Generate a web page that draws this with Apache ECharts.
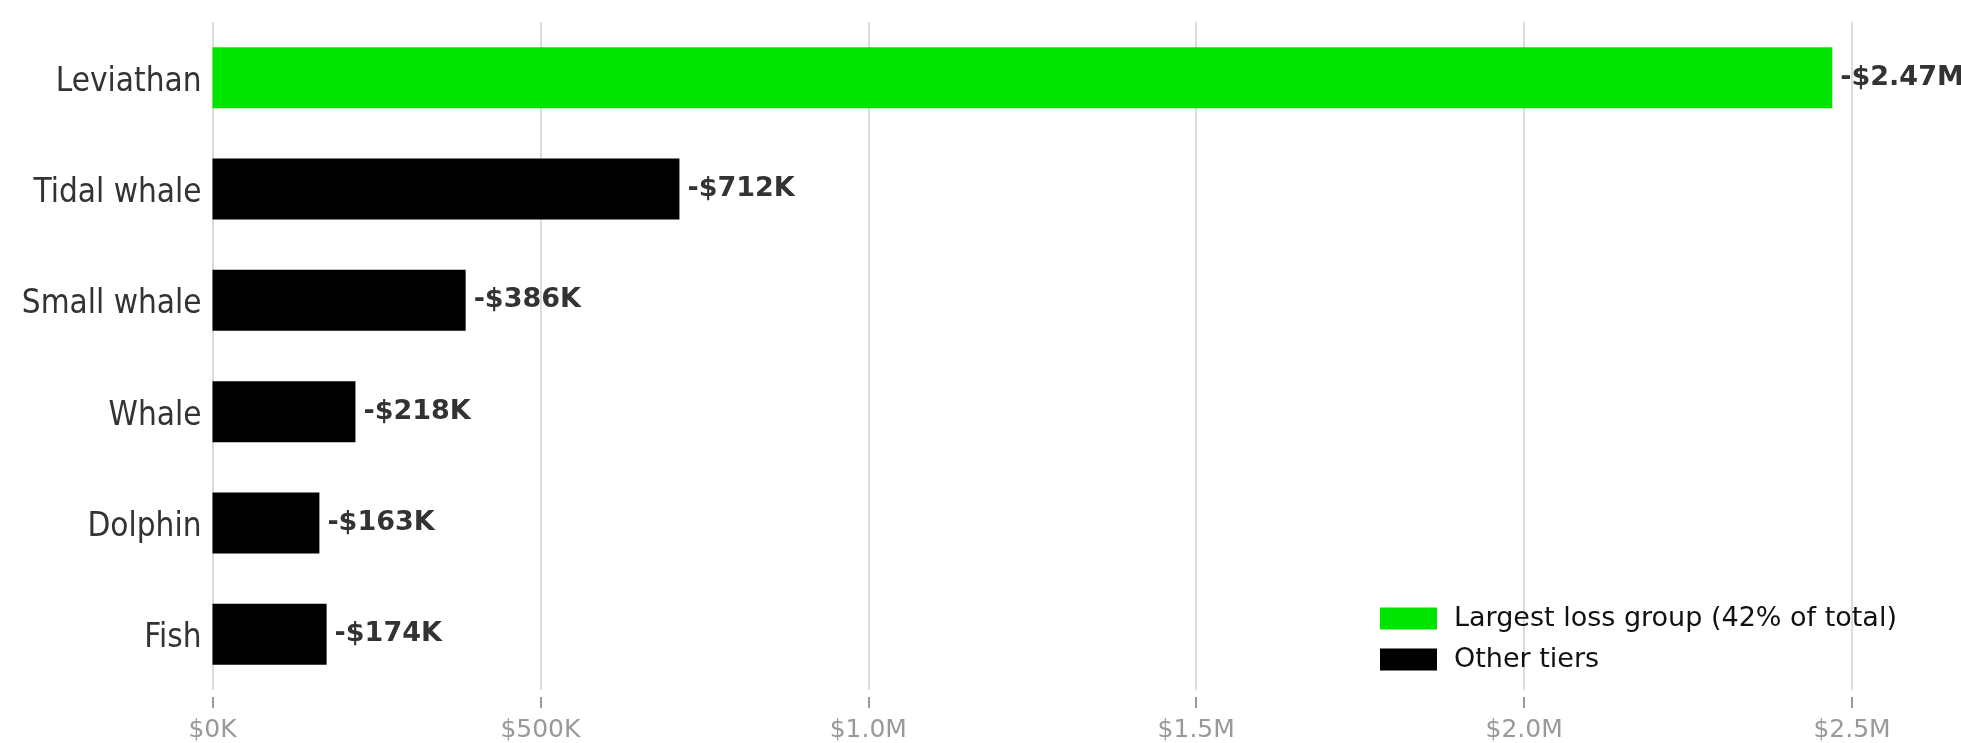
<!DOCTYPE html>
<html>
<head>
<meta charset="utf-8">
<script src="https://cdn.jsdelivr.net/npm/echarts@6/dist/echarts.min.js"></script>
<style>
  html, body { margin: 0; padding: 0; background: #fff; }
  #chart { width: 1961px; height: 743px; }
</style>
</head>
<body>
<div id="chart"></div>
<script>
// loss per tier (shown as negative dollars)
var categories = ['Leviathan', 'Tidal whale', 'Small whale', 'Whale', 'Dolphin', 'Fish'];
var losses = [2470000, 712000, 386000, 218000, 163000, 174000];
var highlightIndex = 0;
var tickLabels = ['$0K', '$500K', '$1.0M', '$1.5M', '$2.0M', '$2.5M'];
var seriesNames = ['Largest loss group (42% of total)', 'Other tiers'];

(function () {
    var myChart = echarts.init(document.getElementById('chart'));

    var font = 'DejaVu Sans';
    var narrowFont = '"DejaVu Sans Condensed", "DejaVu Sans"';

    function fmtLoss(v) {
        if (v >= 1000000) {
            return '-$' + (v / 1000000).toFixed(2) + 'M';
        }
        return '-$' + Math.round(v / 1000) + 'K';
    }

    var labelStyle = {
        show: true,
        position: 'right',
        distance: 8,
        color: '#333',
        fontFamily: font,
        fontWeight: 'bold',
        fontSize: 27,
        formatter: function (p) { return fmtLoss(p.value); }
    };

    var option = {
        animation: false,
        textStyle: { fontFamily: font },
        legend: {
            orient: 'vertical',
            left: 1375,
            top: 600,
            itemWidth: 57,
            itemHeight: 22,
            itemGap: 14,
            icon: 'rect',
            textStyle: {
                color: '#111',
                fontSize: 27,
                fontFamily: font,
                padding: [0, 0, 0, 12]
            },
            data: seriesNames
        },
        grid: {
            left: 212.5,
            right: 109,
            top: 22,
            height: 669
        },
        xAxis: {
            type: 'value',
            min: 0,
            max: 2500000,
            interval: 500000,
            offset: 7,
            axisLine: { show: false },
            axisTick: {
                show: true,
                length: 11,
                lineStyle: { color: '#999', width: 2 }
            },
            axisLabel: {
                color: '#999',
                fontSize: 25,
                fontFamily: font,
                margin: 21,
                formatter: function (v) { return tickLabels[Math.round(v / 500000)]; }
            },
            splitLine: {
                show: true,
                lineStyle: { color: '#dcdcdc', width: 2 }
            }
        },
        yAxis: {
            type: 'category',
            inverse: true,
            data: categories,
            axisLine: { show: false },
            axisTick: { show: false },
            axisLabel: {
                margin: 11,
                formatter: function (v) { return '{cat|' + v + '}'; },
                rich: {
                    cat: {
                        color: '#333',
                        fontSize: 33,
                        fontFamily: narrowFont,
                        padding: [9, 0, 0, 0]
                    }
                }
            }
        },
        series: [
            {
                name: seriesNames[0],
                type: 'bar',
                stack: 'tiers',
                barWidth: 61,
                itemStyle: { color: '#00e500' },
                label: labelStyle,
                data: losses.map(function (v, i) { return i === highlightIndex ? v : '-'; })
            },
            {
                name: seriesNames[1],
                type: 'bar',
                stack: 'tiers',
                barWidth: 61,
                itemStyle: { color: '#000000' },
                label: labelStyle,
                data: losses.map(function (v, i) { return i === highlightIndex ? '-' : v; })
            }
        ]
    };
    myChart.setOption(option);
    window.addEventListener('resize', function () {
        myChart.resize();
    });
})();
</script>
</body>
</html>
